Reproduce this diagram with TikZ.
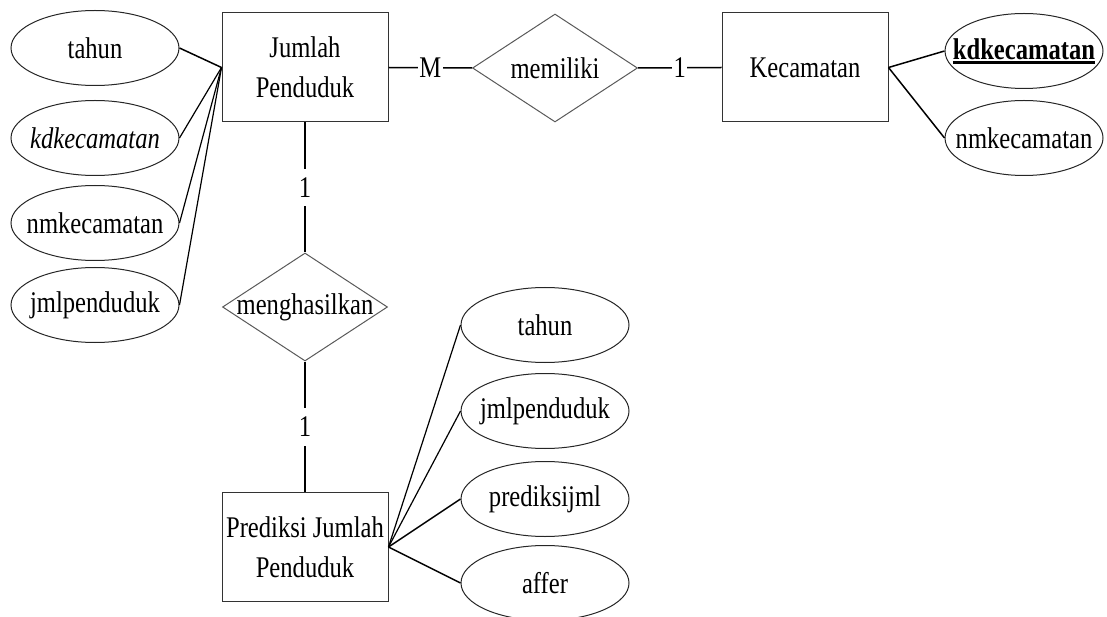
\documentclass[tikz,border=0pt]{standalone}
\usepackage{fontspec}
\setmainfont[FakeStretch=0.82]{Liberation Serif}
\usetikzlibrary{shapes.geometric}

% underline for the key attribute
\newcommand\keyattr[1]{\setbox0=\hbox{#1}\rlap{\rule[-4.5pt]{\wd0}{2.4pt}}\box0}

\tikzset{
  every node/.style={font=\fontsize{30}{40}\selectfont, text=black},
  entity/.style={draw=black!80, line width=1pt, rectangle, inner sep=0pt,
    minimum width=166pt, minimum height=109pt, align=center},
  rel/.style={draw=black!65, line width=1pt, diamond, inner sep=0pt,
    minimum width=165pt, minimum height=108pt},
  attr/.style={draw=black!85, line width=1pt, ellipse, inner sep=0pt,
    minimum width=168pt, minimum height=75pt},
  link/.style={draw=black, line width=1.5pt},
  thinlink/.style={draw=black, line width=1.2pt},
  card/.style={fill=white, inner xsep=1.5pt, inner ysep=1pt},
  vcard/.style={fill=white, inner xsep=1.5pt, inner ysep=9pt},
}

\begin{document}
\begin{tikzpicture}[x=1pt, y=-1pt]
\useasboundingbox (0,0) rectangle (1107,617);

% entities
\node[entity] (jp)   at (305,67.5) {Jumlah\\Penduduk};
\node[entity] (kec)  at (805,67.5) {Kecamatan};
\node[entity] (pred) at (305,547)  {Prediksi Jumlah\\Penduduk};

% relationships
\node[rel] (mem)   at (555,68)  {\makebox[0pt]{memiliki}};
\node[rel] (hasil) at (305,307) {\makebox[0pt]{menghasilkan}};

% attributes of Jumlah Penduduk
\node[attr] (a1) at (95,48)  {\makebox[0pt]{tahun}};
\node[attr] (a2) at (95,138) {\makebox[0pt]{\itshape kdkecamatan}};
\node[attr] (a3) at (95,223) {\makebox[0pt]{nmkecamatan}};
\node[attr] (a4) at (95,305) {\makebox[0pt]{jmlpenduduk}};

% attributes of Kecamatan
\node[attr, minimum width=158pt] (k1) at (1024,51)  {\makebox[0pt]{\keyattr{\bfseries kdkecamatan}}};
\node[attr, minimum width=158pt] (k2) at (1024,138) {\makebox[0pt]{nmkecamatan}};

% attributes of Prediksi Jumlah Penduduk
\node[attr] (p1) at (545,325) {\makebox[0pt]{tahun}};
\node[attr] (p2) at (545,411) {\makebox[0pt]{jmlpenduduk}};
\node[attr] (p3) at (545,499) {\makebox[0pt]{prediksijml}};
\node[attr] (p4) at (545,583) {\makebox[0pt]{affer}};

% attribute connectors
\draw[link]     (a1.east) -- (jp.west);
\draw[thinlink] (a2.east) -- (jp.west);
\draw[thinlink] (a3.east) -- (jp.west);
\draw[thinlink] (a4.east) -- (jp.west);
\draw[link] (kec.east) -- (k1.west);
\draw[link] (kec.east) -- (k2.west);
\draw[thinlink] (pred.east) -- (p1.west);
\draw[thinlink] (pred.east) -- (p2.west);
\draw[link] (pred.east) -- (p3.west);
\draw[link] (pred.east) -- (p4.west);

% relationship connectors with cardinalities
\draw[link] (jp.east) -- node[card] {M} (mem.west);
\draw[link] (mem.east) -- node[card] {1} (kec.west);
\draw[thinlink] (jp.south) -- node[vcard] {1} (hasil.north);
\draw[thinlink] (hasil.south) -- node[vcard] {1} (pred.north);
\end{tikzpicture}
\end{document}
